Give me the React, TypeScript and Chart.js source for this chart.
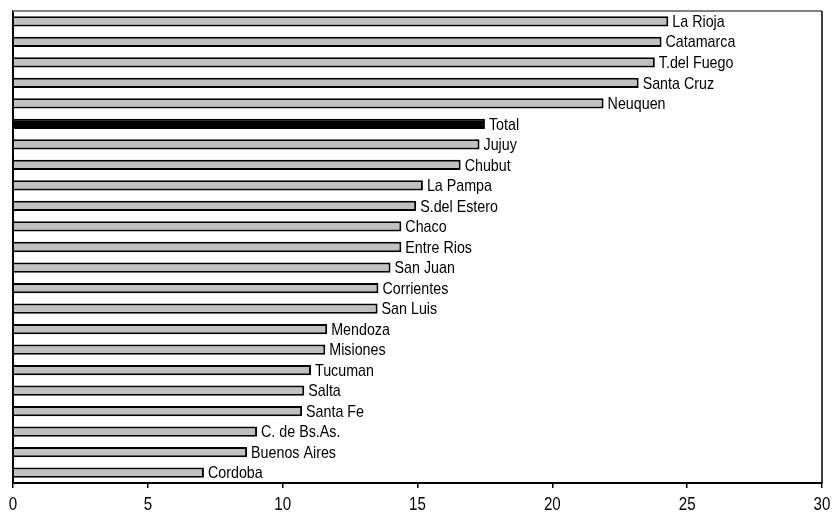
import React, { useEffect, useRef } from "react";
import { Chart, registerables } from "chart.js";

Chart.register(...registerables);

const categories = [
  "La Rioja", "Catamarca", "T.del Fuego", "Santa Cruz", "Neuquen", "Total",
  "Jujuy", "Chubut", "La Pampa", "S.del Estero", "Chaco", "Entre Rios",
  "San Juan", "Corrientes", "San Luis", "Mendoza", "Misiones", "Tucuman",
  "Salta", "Santa Fe", "C. de Bs.As.", "Buenos Aires", "Cordoba",
];
const values = [
  24.3, 24.05, 23.8, 23.2, 21.9, 17.5,
  17.3, 16.6, 15.2, 14.95, 14.4, 14.4,
  14.0, 13.55, 13.52, 11.65, 11.58, 11.05,
  10.8, 10.72, 9.05, 8.68, 7.08,
];
const xTicks = [0, 5, 10, 15, 20, 25, 30];

const FAMILY = "'Liberation Sans', Arial, sans-serif";
const SQUEEZE = 0.84;

function drawNarrow(
  ctx: CanvasRenderingContext2D,
  text: string,
  x: number,
  y: number,
  align: "left" | "center",
  size: number
) {
  ctx.save();
  ctx.translate(x, y);
  ctx.scale(SQUEEZE, 1);
  ctx.font = `${size}px ${FAMILY}`;
  ctx.fillStyle = "#000";
  ctx.textAlign = align;
  ctx.textBaseline = "middle";
  ctx.fillText(text, 0, 0);
  ctx.restore();
}

const labelPlugin = {
  id: "barLabels",
  afterDatasetsDraw(chart: any) {
    const ctx = chart.ctx;
    const meta = chart.getDatasetMeta(0);
    meta.data.forEach((bar: any, i: number) => {
      drawNarrow(ctx, categories[i], bar.x + 4, bar.y + 1, "left", 17);
    });
  },
};

const frameAndTicksPlugin = {
  id: "frame",
  afterDraw(chart: any) {
    const { ctx, chartArea } = chart;
    ctx.save();
    ctx.strokeStyle = "#808080";
    ctx.lineWidth = 2;
    ctx.beginPath();
    ctx.moveTo(chartArea.left, chartArea.top);
    ctx.lineTo(chartArea.right, chartArea.top);
    ctx.stroke();
    ctx.strokeStyle = "#000";
    ctx.lineWidth = 1.5;
    ctx.beginPath();
    ctx.moveTo(chartArea.right, chartArea.top);
    ctx.lineTo(chartArea.right, chartArea.bottom);
    ctx.stroke();
    ctx.restore();
    const xs = chart.scales.x;
    xTicks.forEach((v) => {
      drawNarrow(ctx, String(v), xs.getPixelForValue(v), chartArea.bottom + 22, "center", 18);
    });
  },
};

if (typeof document !== "undefined") {
  document.body.style.margin = "0";
  document.documentElement.style.overflow = "hidden";
}

export default function App() {
  const ref = useRef<HTMLCanvasElement>(null);
  useEffect(() => {
    if (!ref.current) return;
    const chart = new Chart(ref.current, {
      type: "bar",
      data: {
        labels: categories,
        datasets: [
          {
            data: values,
            backgroundColor: categories.map((c) => (c === "Total" ? "#000" : "#c0c0c0")),
            borderColor: "#000",
            borderWidth: 2,
            borderSkipped: "start",
            barPercentage: 0.5,
            categoryPercentage: 1,
          },
        ],
      },
      options: {
        indexAxis: "y",
        animation: false,
        responsive: false,
        maintainAspectRatio: false,
        layout: { padding: { left: 13, right: 12, top: 11, bottom: 0 } },
        plugins: { legend: { display: false }, tooltip: { enabled: false } },
        scales: {
          x: {
            min: 0,
            max: 30,
            afterBuildTicks: (scale: any) => {
              scale.ticks = xTicks.map((v) => ({ value: v }));
            },
            afterFit: (scale: any) => {
              scale.height = 30;
              scale.paddingLeft = 0;
              scale.paddingRight = 0;
            },
            grid: {
              display: true,
              drawOnChartArea: false,
              drawTicks: true,
              tickLength: 5,
              color: "#000",
              lineWidth: 1.5,
            },
            border: { display: true, color: "#000", width: 2 },
            ticks: { display: false },
          },
          y: {
            afterFit: (scale: any) => {
              scale.width = 0;
            },
            grid: { display: false },
            border: { display: true, color: "#000", width: 2 },
            ticks: { display: false },
          },
        },
      },
      plugins: [labelPlugin, frameAndTicksPlugin],
    });
    return () => chart.destroy();
  }, []);
  return (
    <div style={{ width: 834, height: 513 }}>
      <canvas ref={ref} width={834} height={513} style={{ display: "block" }} />
    </div>
  );
}
